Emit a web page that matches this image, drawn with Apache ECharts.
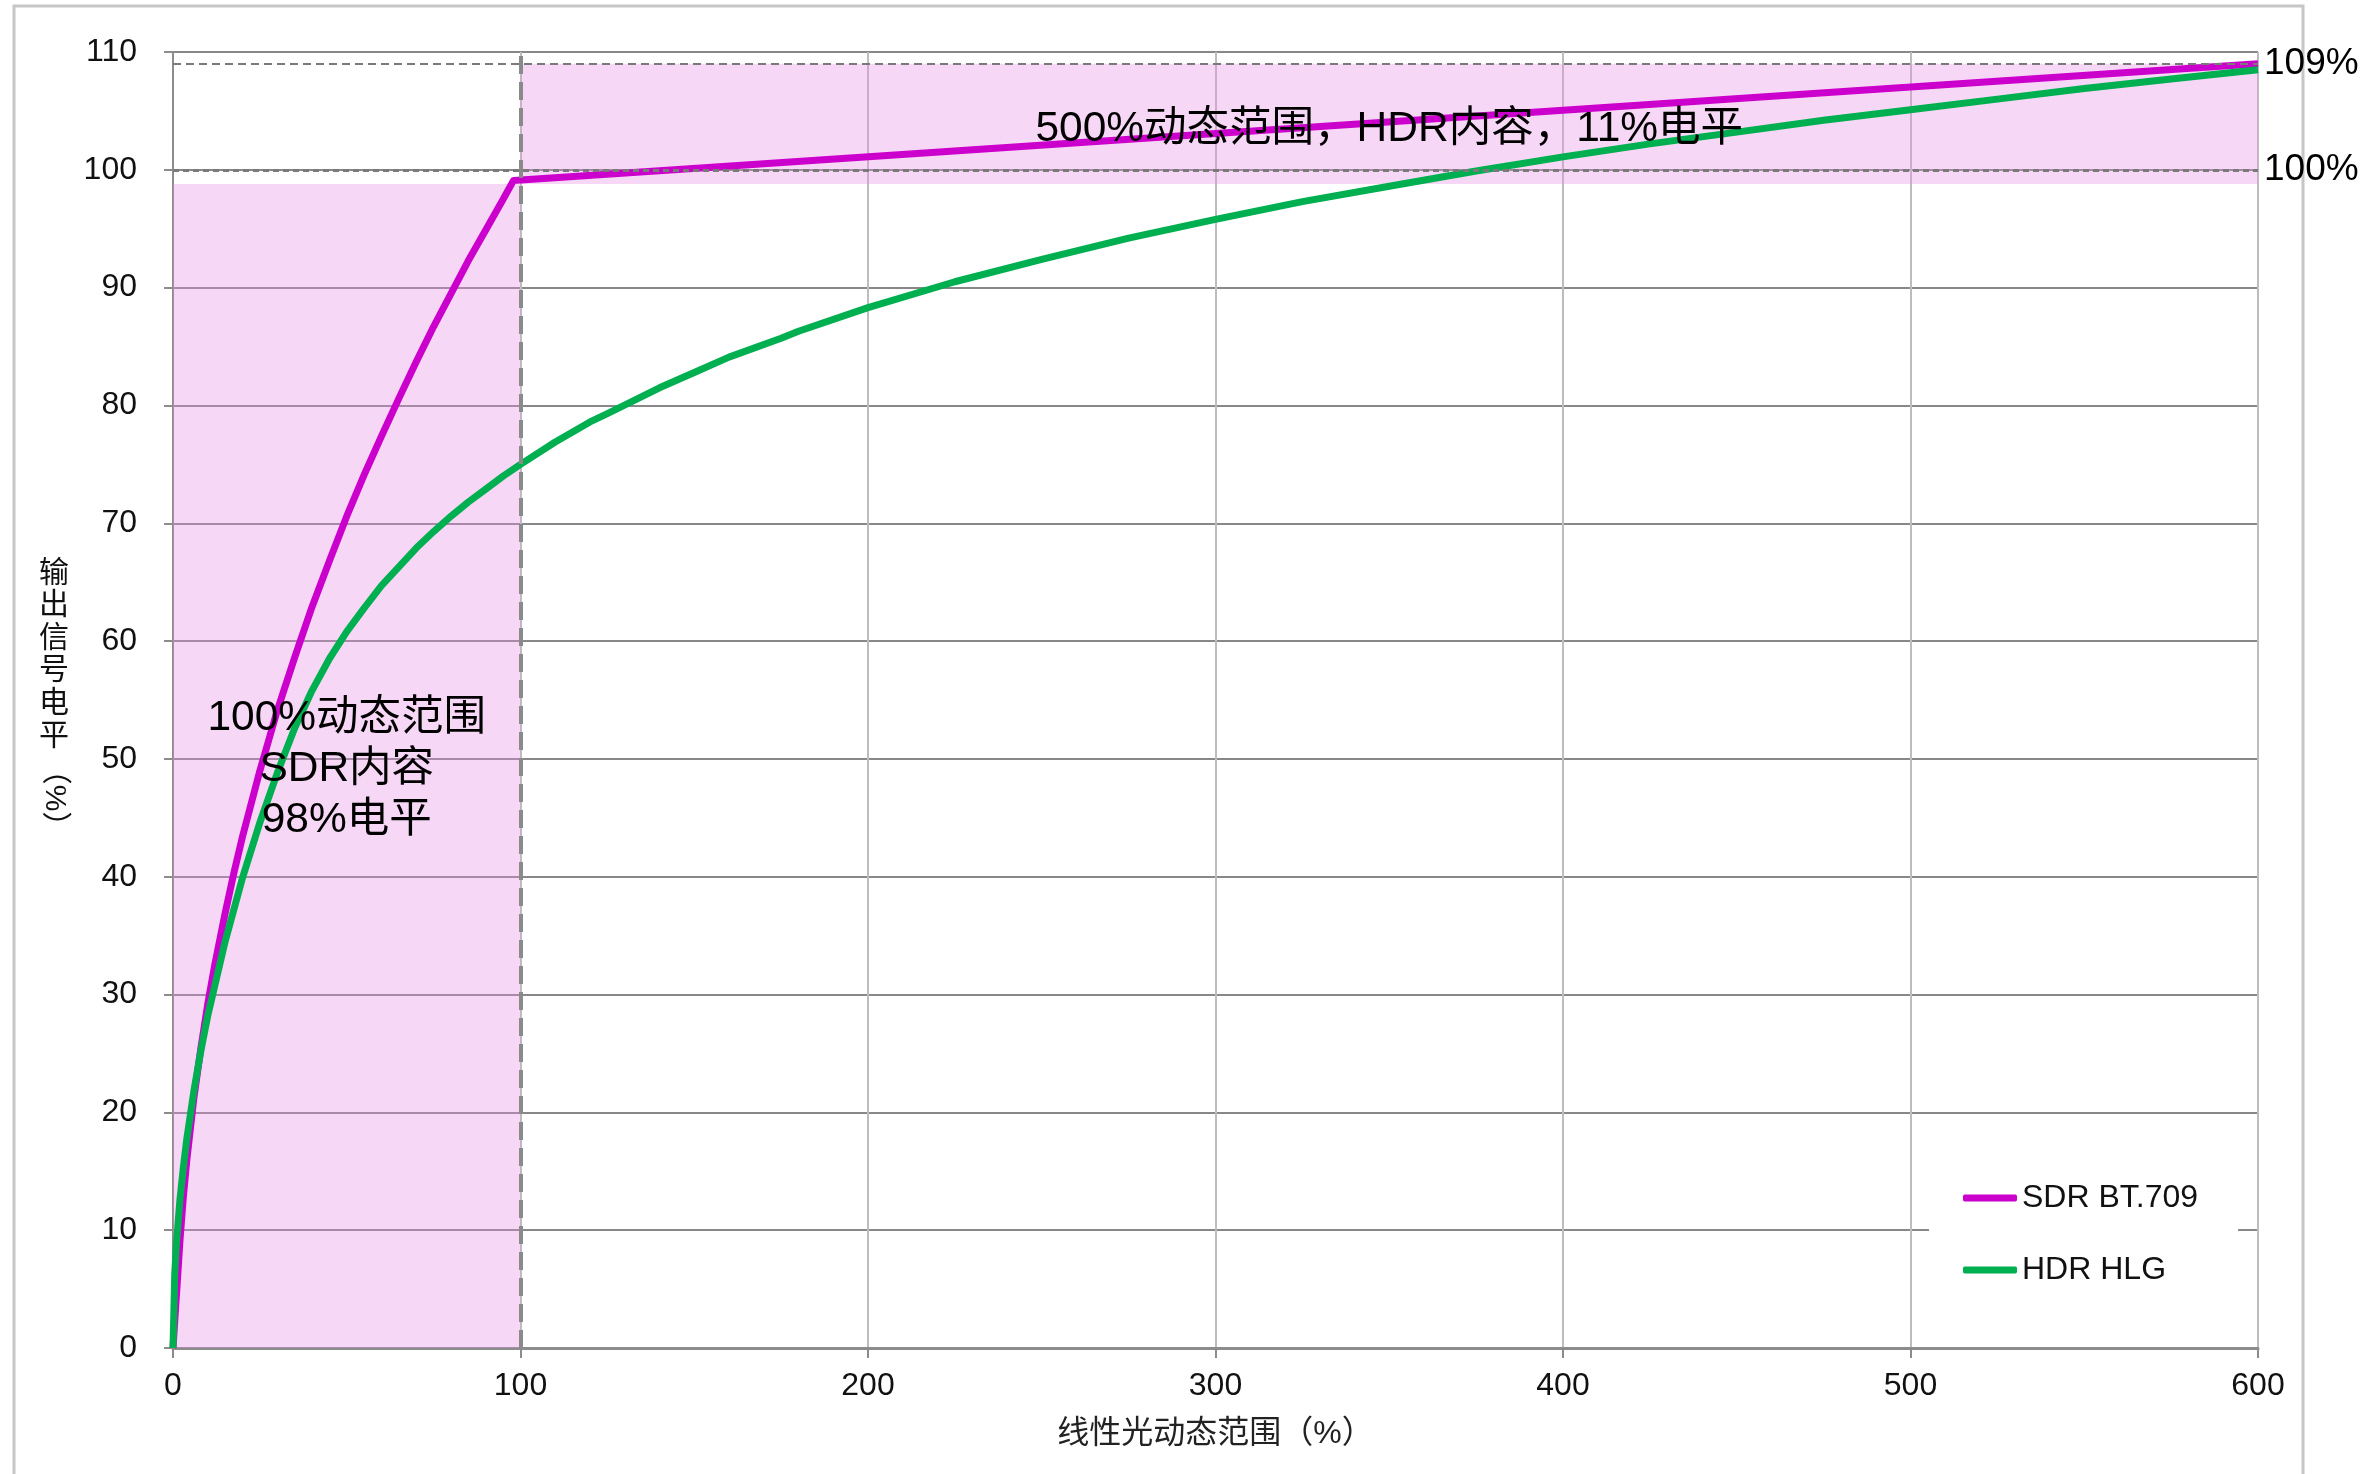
<!DOCTYPE html>
<html>
<head>
<meta charset="utf-8">
<script src="https://cdn.jsdelivr.net/npm/echarts@6/dist/echarts.min.js"></script>
<style>
html,body{margin:0;padding:0;background:#fff;}
#chart{width:2378px;height:1474px;}
</style>
</head>
<body>
<div id="chart"></div>
<script>
// ---- data ----
const seriesNames = ['SDR BT.709', 'HDR HLG'];
const sdrX = [0, 0.5, 1, 2, 3, 4, 6, 8, 10, 12, 15, 17.5, 20, 25, 30, 35, 40, 45, 50, 55, 60, 65, 70, 75, 80, 85, 90, 95, 98, 600];
const sdrY = [0, 2.3, 4.5, 9.1, 12.9, 16.0, 21.2, 25.4, 29.2, 32.5, 36.9, 40.3, 43.4, 49.0, 54.1, 58.6, 62.9, 66.8, 70.6, 74.1, 77.4, 80.6, 83.7, 86.7, 89.5, 92.3, 94.9, 97.5, 99.1, 109.0];
const hlgX = [0, 0.5, 1, 2, 3, 4, 6, 8, 10, 15, 20, 25, 30, 35, 40, 45, 50, 55, 60, 65, 70, 75, 80, 85, 90, 95, 100, 110, 120, 125, 140, 150, 160, 175, 180, 200, 225, 250, 275, 300, 325, 350, 375, 400, 425, 450, 475, 500, 525, 550, 575, 600];
const hlgY = [0, 6.3, 8.9, 12.6, 15.4, 17.8, 21.8, 25.2, 28.2, 34.5, 39.9, 44.6, 48.8, 52.6, 55.8, 58.5, 60.8, 62.8, 64.7, 66.3, 67.9, 69.3, 70.6, 71.8, 72.9, 74.0, 75.0, 76.9, 78.6, 79.3, 81.5, 82.8, 84.1, 85.7, 86.3, 88.3, 90.5, 92.4, 94.2, 95.8, 97.3, 98.6, 99.9, 101.1, 102.2, 103.2, 104.2, 105.1, 106.0, 106.9, 107.7, 108.5];
const xTicks = {min: 0, max: 600, step: 100};
const yTicks = {min: 0, max: 110, step: 10};
const sdrZone = [[0, 0], [100, 98.8]];
const hdrZone = [[100, 98.8], [600, 109]];
const kneeX = 100;
const refLines = [{y: 109, text: '109%'}, {y: 100, text: '100%'}];
const notes = [
  {x: 50, y: 49.1, text: '100%动态范围\nSDR内容\n98%电平'},
  {x: 350, y: 103.4, text: '500%动态范围，HDR内容，11%电平'}
];
const xAxisName = '线性光动态范围（%）';
const yAxisNameMain = ['输', '出', '信', '号', '电', '平'];
const yAxisNameUnit = '（%）';

// ---- chart ----
const FONT = "'Liberation Sans', 'Noto Sans CJK SC', sans-serif";
const chart = echarts.init(document.getElementById('chart'), null, {renderer: 'canvas'});
const toPairs = (xs, ys) => xs.map((x, i) => [x, ys[i]]);
const colors = ['#CC00CC', '#00B050'];

const option = {
  animation: false,
  backgroundColor: '#fff',
  textStyle: {fontFamily: FONT},
  grid: {left: 173, right: 120, top: 52, bottom: 126, containLabel: false},
  xAxis: {
    type: 'value', min: xTicks.min, max: xTicks.max, interval: xTicks.step,
    name: xAxisName, nameLocation: 'middle', nameGap: 70,
    nameTextStyle: {fontSize: 32, color: '#222', lineHeight: 32, fontFamily: FONT},
    axisLine: {show: true, lineStyle: {color: '#8c8c8c', width: 3}},
    axisTick: {show: true, length: 10, lineStyle: {color: '#8c8c8c', width: 2}},
    axisLabel: {fontSize: 32, color: '#111', margin: 22, lineHeight: 32, fontFamily: FONT},
    splitLine: {show: true, lineStyle: {color: '#bdbdbd', width: 2}}
  },
  yAxis: {
    type: 'value', min: yTicks.min, max: yTicks.max, interval: yTicks.step,
    axisLine: {show: true, lineStyle: {color: '#8c8c8c', width: 2}},
    axisTick: {show: true, length: 9, lineStyle: {color: '#8c8c8c', width: 2}},
    axisLabel: {fontSize: 32, color: '#111', margin: 36, fontFamily: FONT},
    splitLine: {show: true, lineStyle: {color: '#888888', width: 2}}
  },
  legend: {
    data: seriesNames,
    orient: 'vertical',
    left: 1929, top: 1152,
    padding: [30, 40, 30, 34],
    backgroundColor: '#ffffff',
    itemWidth: 54, itemHeight: 7, itemGap: 40,
    icon: 'roundRect',
    textStyle: {fontSize: 32, color: '#111', fontFamily: FONT, lineHeight: 32}
  },
  series: [
    {
      name: 'zones', type: 'line', data: [], z: 1, silent: true,
      markArea: {
        silent: true,
        itemStyle: {color: 'rgba(232,140,228,0.35)'},
        data: [
          [{coord: sdrZone[0]}, {coord: sdrZone[1]}],
          [{coord: hdrZone[0]}, {coord: hdrZone[1]}]
        ]
      }
    },
    {
      name: 'guides', type: 'line', data: [], z: 2, silent: true,
      markLine: {
        silent: true, symbol: 'none', animation: false,
        data: [
          {xAxis: kneeX, lineStyle: {type: [18, 8], width: 4, color: '#8a8a8a'}, label: {show: false}},
          ...refLines.map((r, i) => ({
            yAxis: r.y,
            lineStyle: i === 0 ? {type: [8, 5], width: 2, color: '#7a7a7a'} : {type: [6, 4], width: 3, color: '#7a7a7a'},
            label: {show: true, position: 'end', distance: 6, formatter: r.text, fontSize: 37, color: '#000', fontFamily: FONT}
          }))
        ]
      }
    },
    {
      name: seriesNames[0], type: 'line', data: toPairs(sdrX, sdrY), z: 3,
      showSymbol: false, symbol: 'none', smooth: false,
      lineStyle: {color: colors[0], width: 7, join: 'round'},
      itemStyle: {color: colors[0]}
    },
    {
      name: seriesNames[1], type: 'line', data: toPairs(hlgX, hlgY), z: 4,
      showSymbol: false, symbol: 'none', smooth: false,
      lineStyle: {color: colors[1], width: 7, join: 'round'},
      itemStyle: {color: colors[1]}
    },
    {
      name: 'notes', type: 'line', data: [], z: 5, silent: true,
      markPoint: {
        silent: true, symbol: 'rect', symbolSize: 1,
        itemStyle: {color: 'rgba(0,0,0,0)'},
        data: notes.map(n => ({
          coord: [n.x, n.y],
          label: {show: true, position: 'inside', formatter: n.text, fontSize: 42.5, lineHeight: 51, color: '#000', align: 'center', fontFamily: FONT}
        }))
      }
    }
  ],
  graphic: [
    {type: 'rect', silent: true, z: 0, shape: {x: 14, y: 6, width: 2289, height: 1500}, style: {fill: 'none', stroke: '#c6c6c6', lineWidth: 3}},
    {type: 'text', silent: true, x: 54, y: 557, style: {text: yAxisNameMain.join('\n'), fontSize: 30, lineHeight: 32.6, align: 'center', verticalAlign: 'top', fill: '#111', fontFamily: FONT}},
    {type: 'text', silent: true, x: 54, y: 798, rotation: -Math.PI / 2, style: {text: yAxisNameUnit, fontSize: 30, align: 'center', verticalAlign: 'middle', fill: '#111', fontFamily: FONT}}
  ]
};
chart.setOption(option);
</script>
</body>
</html>
